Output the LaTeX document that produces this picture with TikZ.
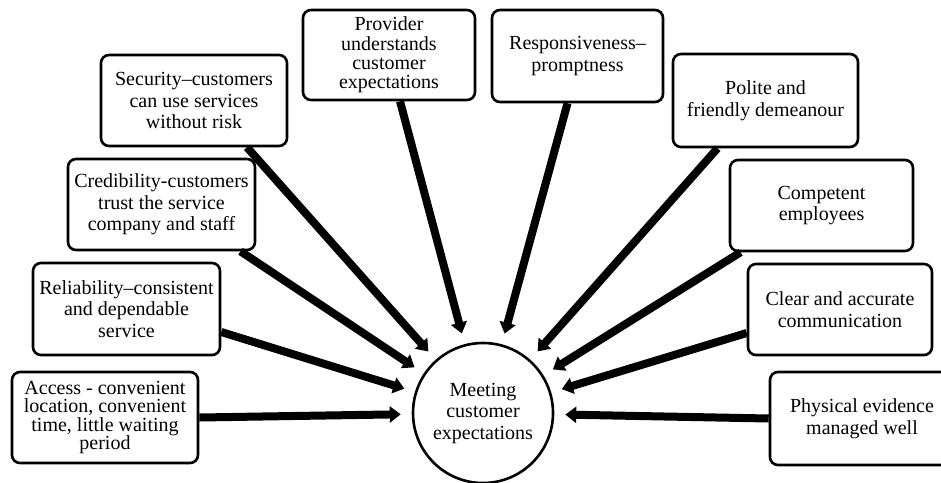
\documentclass[tikz,border=0pt]{standalone}
\usepackage{fontspec}
\setmainfont{Liberation Serif}
\usetikzlibrary{arrows.meta}
\begin{document}
\begin{tikzpicture}[x=1pt,y=-1pt,
  factor/.style={draw, line width=2.6pt, rounded corners=8pt, fill=white,
    align=center, inner sep=0pt, minimum width=186pt, minimum height=91pt,
    font=\fontsize{20}{21.7}\selectfont},
  hub/.style={draw, circle, line width=2.6pt, minimum size=140pt, inner sep=0pt,
    align=center, font=\fontsize{20}{21.5}\selectfont},
  feed/.style={line width=8pt, -{Triangle[width=16pt,length=11pt]}, shorten >=11pt}
]
\useasboundingbox (0,0) rectangle (941,482);

% central outcome
\node[hub] (hub) at (483,413) {Meeting\\customer\\expectations};

% service quality factors, left side
\node[factor, font=\fontsize{20}{18.4}\selectfont] (access) at (105,417.5)
  {Access - convenient\\location, convenient\\time, little waiting\\period};
\node[factor, minimum width=187pt, minimum height=92pt] (reliab) at (126.5,309)
  {Reliability--consistent\\and dependable\\service};
\node[factor, minimum width=187pt] (cred) at (161.5,204.5)
  {Credibility-customers\\trust the service\\company and staff};
\node[factor] (secur) at (194,100.5)
  {Security--customers\\can use services\\without risk};
\node[factor, minimum width=172pt, minimum height=90pt, font=\fontsize{20}{19.3}\selectfont] (provider) at (389,55)
  {Provider\\understands\\customer\\expectations};

% service quality factors, right side
\node[factor, minimum width=171pt, minimum height=92pt] (respon) at (577.5,56)
  {Responsiveness--\\promptness};
\node[factor, minimum width=185pt, minimum height=93pt] (polite) at (765.5,100.5)
  {Polite and\\friendly demeanour};
\node[factor, minimum width=183pt] (compet) at (821.5,205.5)
  {Competent\\employees};
\node[factor, minimum width=184pt] (clear) at (840,309.5)
  {Clear and accurate\\communication};
\node[factor, minimum width=184pt, minimum height=93pt] (phys) at (862,418.5)
  {Physical evidence\\managed well};

% connectors into the hub
\draw[feed] (access.east) -- (hub);
\draw[feed] ([yshift=-23pt]reliab.east) -- (hub);
\draw[feed] ([xshift=79pt]cred.south) -- (hub);
\draw[feed] ([xshift=53pt]secur.south) -- (hub);
\draw[feed] ([xshift=11pt]provider.south) -- (hub);
\draw[feed] ([xshift=-10pt]respon.south) -- (hub);
\draw[feed] ([xshift=-48pt]polite.south) -- (hub);
\draw[feed] ([xshift=-81pt]compet.south) -- (hub);
\draw[feed] ([yshift=-23.5pt]clear.west) -- (hub);
\draw[feed] (phys.west) -- (hub);
\end{tikzpicture}
\end{document}
